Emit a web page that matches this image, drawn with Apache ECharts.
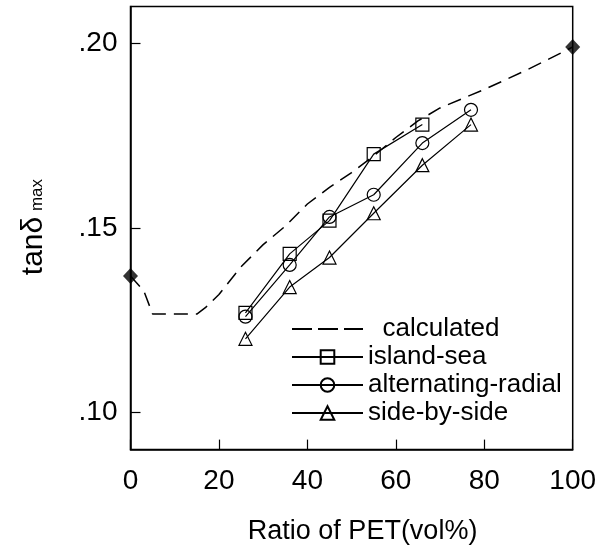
<!DOCTYPE html>
<html>
<head>
<meta charset="utf-8">
<script src="https://cdn.jsdelivr.net/npm/echarts@6/dist/echarts.min.js"></script>
<style>
  html, body { margin: 0; padding: 0; background: #fff; }
  #chart { width: 608px; height: 552px; }
</style>
</head>
<body>
<div id="chart"></div>
<script>
// PET ratio (vol%) of the measured blends
const blendX = [26, 36, 45, 55, 66, 77];
// tan delta max for each fiber morphology
const islandSea = [0.127, 0.143, 0.152, 0.170, 0.178];
const alternatingRadial = [0.126, 0.140, 0.153, 0.159, 0.173, 0.182];
const sideBySide = [0.120, 0.134, 0.142, 0.154, 0.167, 0.178];

// calculated curve
const calcX = [0, 3, 5, 15, 17, 20, 25, 30, 35, 40, 45, 50, 55, 60, 65, 70, 80, 90, 100];
const calcY = [0.137, 0.133, 0.1267, 0.1267, 0.1285, 0.132, 0.1395, 0.1455, 0.1505, 0.1565,
               0.161, 0.165, 0.1695, 0.1745, 0.179, 0.1825, 0.1875, 0.193, 0.199];

// pure components (0 and 100 vol% PET)
const pureX = [0, 100];
const pureY = [0.137, 0.199];

const yTickValues = [0.10, 0.15, 0.20];
const yTickLabels = ['.10', '.15', '.20'];
const xTickValues = [0, 20, 40, 60, 80, 100];

const FONT = '"Liberation Sans", Arial, sans-serif';
const pairs = (xs, ys) => ys.map((y, i) => [xs[i], y]);

const chart = echarts.init(document.getElementById('chart'), null, { renderer: 'canvas' });

const markerSeries = (name, symbol, data) => ({
  name, type: 'line', data,
  symbol, symbolSize: 13,
  showAllSymbol: true,
  lineStyle: { color: '#000', width: 1.2 },
  itemStyle: { color: 'rgba(255,255,255,0)', borderColor: '#000', borderWidth: 1.2 },
  emphasis: { disabled: true },
  z: 3
});

chart.setOption({
  animation: false,
  backgroundColor: '#fff',
  textStyle: { fontFamily: FONT, color: '#000' },
  grid: {
    left: 130.5, right: 35.3, top: 6.4, bottom: 102.4,
    show: true, borderColor: '#000', borderWidth: 1.5, containLabel: false
  },
  xAxis: {
    type: 'value', min: 0, max: 100, interval: 20,
    name: 'Ratio of PET(vol%)', nameLocation: 'middle', nameGap: 68,
    nameTextStyle: { fontSize: 27, color: '#000', fontFamily: FONT, padding: [0, 0, 0, 22] },
    axisLine: { show: true, lineStyle: { color: '#000', width: 1.5 } },
    axisTick: { show: true, inside: true, length: 10, lineStyle: { color: '#000', width: 1.2 } },
    axisLabel: { fontSize: 28, color: '#000', margin: 18, fontFamily: FONT,
      customValues: xTickValues },
    splitLine: { show: false }
  },
  yAxis: {
    type: 'value', min: 0.09, max: 0.21, interval: 0.01,
    axisLine: { show: true, lineStyle: { color: '#000', width: 1.5 } },
    axisTick: { show: true, inside: true, length: 10, lineStyle: { color: '#000', width: 1.2 },
      customValues: yTickValues },
    axisLabel: { fontSize: 28, color: '#000', margin: 13, fontFamily: FONT,
      customValues: yTickValues,
      formatter: v => {
        const i = yTickValues.findIndex(t => Math.abs(t - v) < 1e-6);
        return i >= 0 ? yTickLabels[i] : '';
      } },
    splitLine: { show: false }
  },
  legend: {
    data: [
      { name: 'calculated', itemStyle: { opacity: 0 }, lineStyle: { type: [20, 6], width: 1.8 } },
      'island-sea', 'alternating-radial', 'side-by-side'
    ],
    orient: 'vertical', left: 291, top: 316, padding: 0,
    itemWidth: 71, itemHeight: 17, itemGap: 2,
    formatter: n => n === 'calculated' ? '  ' + n : n,
    textStyle: { fontSize: 26, color: '#000', fontFamily: FONT },
    selectedMode: false
  },
  graphic: [
    { type: 'text', x: 34, y: 246, rotation: Math.PI / 2,
      style: { text: 'tanδ', font: '30px ' + FONT, fill: '#000', textAlign: 'center', textVerticalAlign: 'middle' } },
    { type: 'text', x: 37.5, y: 195, rotation: Math.PI / 2,
      style: { text: 'max', font: '17px ' + FONT, fill: '#000', textAlign: 'center', textVerticalAlign: 'middle' } }
  ],
  series: [
    {
      name: 'calculated', type: 'line', data: pairs(calcX, calcY),
      symbol: 'none', smooth: false,
      lineStyle: { color: '#000', width: 1.5, type: [14, 8] },
      itemStyle: { color: '#000' },
      emphasis: { disabled: true }, z: 2
    },
    markerSeries('island-sea', 'rect', pairs(blendX, islandSea)),
    markerSeries('alternating-radial', 'circle', pairs(blendX, alternatingRadial)),
    markerSeries('side-by-side', 'triangle', pairs(blendX, sideBySide)),
    {
      name: 'pure', type: 'scatter', data: pairs(pureX, pureY),
      symbol: 'diamond', symbolSize: [15, 16],
      itemStyle: { color: '#000' }, clip: false,
      emphasis: { disabled: true }, z: 4
    }
  ]
});
</script>
</body>
</html>
